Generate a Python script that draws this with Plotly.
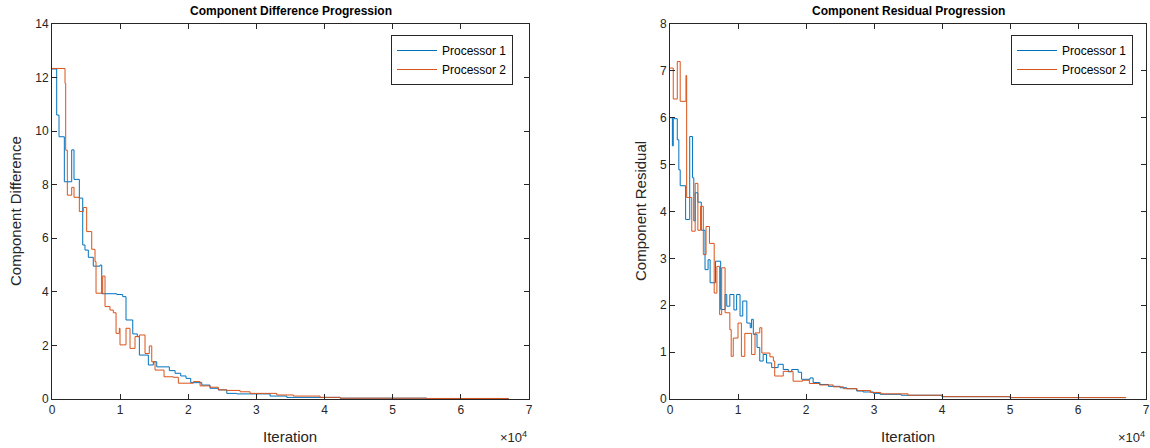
import plotly.graph_objects as go

# ---------------- data ----------------
# Left panel: Component Difference
diff_p1_iter = [0, 690, 1030, 1810, 2890, 3230, 4010, 4510, 4840, 5330, 6060, 7050, 7300,
                9500, 10380, 10860, 11850, 12520, 12820, 14140, 14870, 15370, 17220, 18060,
                18890, 19670, 20360, 21980, 23190, 24410, 25650, 27110, 32000, 34450, 42280,
                55000, 67000]
diff_p1_val = [12.32, 10.6, 9.79, 8.11, 9.3, 8.2, 7.5, 5.75, 5.56, 5.29, 4.96, 5.0, 3.93,
               3.9, 3.82, 2.95, 2.43, 2.33, 1.64, 1.27, 1.39, 1.2, 1.06, 0.96,
               0.86, 0.77, 0.61, 0.52, 0.40, 0.34, 0.21, 0.19, 0.11, 0.06, 0.03,
               0.015, 0.01]

diff_p2_iter = [0, 1910, 2010, 2250, 2890, 3230, 4010, 4600, 5090, 5830, 6310, 6460, 7440,
                7780, 8510, 9000, 9400, 9880, 9980, 10860, 11450, 12180, 12820, 13650, 14280,
                14640, 15120, 16440, 17810, 18540, 20740, 21730, 23190, 24410, 25650, 27600,
                29070, 32990, 35420, 39340, 42280, 55000, 67000]
diff_p2_val = [12.34, 11.78, 9.29, 7.61, 7.9, 7.53, 7.0, 7.15, 6.25, 5.59, 5.13, 3.95, 4.59,
               3.45, 3.32, 3.22, 2.45, 2.64, 2.02, 2.64, 1.89, 2.33, 2.39, 1.7, 1.98,
               1.39, 1.08, 0.83, 0.81, 0.59, 0.65, 0.49, 0.44, 0.34, 0.32, 0.27,
               0.21, 0.15, 0.11, 0.06, 0.03, 0.02, 0.01]

# Right panel: Component Residual
res_p1_iter = [0, 350, 480, 1070, 1300, 1500, 2300, 2900, 3300, 3500, 3700, 4100, 4600, 5150,
               5600, 5900, 6700, 7450, 8100, 8350, 8800, 9400, 9800, 10300, 10700, 11300,
               11800, 12000, 12250, 12800, 13200, 13700, 14200, 14950, 15900, 16650, 17400,
               17900, 18850, 19350, 20600, 21050, 22050, 23300, 25000, 26000, 27450, 28400,
               29900, 30900, 34000, 40000, 50000, 67000]
res_p1_val = [6.0, 5.4, 5.98, 5.53, 4.89, 4.55, 3.83, 5.6, 4.72, 3.8, 4.4, 4.2, 3.6, 2.76,
              2.97, 2.48, 2.94, 1.91, 2.23, 1.98, 2.23, 1.9, 2.23, 1.77, 2.09, 1.62,
              1.52, 1.7, 1.38, 1.1, 0.81, 0.95, 0.77, 0.67, 0.74, 0.63, 0.58,
              0.63, 0.57, 0.42, 0.45, 0.35, 0.31, 0.27, 0.24, 0.22, 0.17, 0.15,
              0.12, 0.1, 0.08, 0.05, 0.03, 0.02]

res_p2_iter = [0, 480, 1070, 1500, 2350, 2450, 3200, 3700, 4100, 4500, 4900, 5300, 5800, 6500,
               6900, 7300, 7600, 8100, 8800, 9000, 9300, 10000, 10500, 11000, 12000, 12500,
               13200, 13500, 14700, 15200, 15400, 16650, 18100, 19500, 20500, 22000, 24000,
               25500, 27500, 29500, 31000, 35000, 40000, 50000, 67000]
res_p2_val = [7.06, 6.4, 7.2, 6.35, 6.9, 4.3, 3.58, 4.6, 3.6, 4.11, 3.08, 3.68, 3.32, 2.26,
              2.83, 1.8, 2.8, 1.84, 1.48, 0.91, 1.3, 1.62, 0.91, 1.4, 0.95, 1.41,
              1.52, 0.98, 0.9, 0.81, 0.49, 0.59, 0.38, 0.4, 0.33, 0.3, 0.26,
              0.22, 0.18, 0.14, 0.11, 0.08, 0.05, 0.03, 0.02]

series_names = ["Processor 1", "Processor 2"]
x_tick_vals = [0, 10000, 20000, 30000, 40000, 50000, 60000, 70000]
x_tick_text = ["0", "1", "2", "3", "4", "5", "6", "7"]

# ---------------- styling ----------------
W, H = 1150, 448
BLUE = "#0072BD"
ORANGE = "#D95319"
AX = "#262626"
FONT = "Liberation Sans, Arial, Helvetica, sans-serif"

def px_x(p):
    return p / W

def px_y(p):
    return 1 - p / H

fig = go.Figure()

fig.add_trace(go.Scatter(x=diff_p1_iter, y=diff_p1_val, mode="lines", line_shape="hv",
                         line=dict(color=BLUE, width=1), name=series_names[0],
                         xaxis="x", yaxis="y", legend="legend"))
fig.add_trace(go.Scatter(x=diff_p2_iter, y=diff_p2_val, mode="lines", line_shape="hv",
                         line=dict(color=ORANGE, width=1), name=series_names[1],
                         xaxis="x", yaxis="y", legend="legend"))
fig.add_trace(go.Scatter(x=res_p1_iter, y=res_p1_val, mode="lines", line_shape="hv",
                         line=dict(color=BLUE, width=1), name=series_names[0],
                         xaxis="x2", yaxis="y2", legend="legend2"))
fig.add_trace(go.Scatter(x=res_p2_iter, y=res_p2_val, mode="lines", line_shape="hv",
                         line=dict(color=ORANGE, width=1), name=series_names[1],
                         xaxis="x2", yaxis="y2", legend="legend2"))

axis_common = dict(showline=True, linecolor=AX, linewidth=1, mirror="allticks",
                   ticks="inside", ticklen=5, tickcolor=AX, tickwidth=1,
                   showgrid=False, zeroline=False, automargin=False,
                   tickfont=dict(family=FONT, size=12, color=AX))

ydom = [px_y(399), px_y(24)]

legend_common = dict(xanchor="right", yanchor="top",
                     bgcolor="white", bordercolor=AX, borderwidth=1,
                     font=dict(family=FONT, size=12, color="black"),
                     tracegroupgap=0, itemwidth=40)

fig.update_layout(
    width=W, height=H,
    margin=dict(l=0, r=0, t=0, b=0, pad=0, autoexpand=False),
    paper_bgcolor="white", plot_bgcolor="white",
    font=dict(family=FONT, color=AX),
    xaxis=dict(domain=[px_x(52), px_x(529)], range=[0, 70000], tickvals=x_tick_vals,
               ticktext=x_tick_text, anchor="y", **axis_common),
    yaxis=dict(domain=ydom, range=[0, 14], dtick=2, anchor="x", **axis_common),
    xaxis2=dict(domain=[px_x(670), px_x(1146)], range=[0, 70000], tickvals=x_tick_vals,
                ticktext=x_tick_text, anchor="y2", **axis_common),
    yaxis2=dict(domain=ydom, range=[0, 8], dtick=1, anchor="x2", **axis_common),
    legend=dict(x=px_x(513), y=px_y(35), **legend_common),
    legend2=dict(x=px_x(1133), y=px_y(35), **legend_common),
    showlegend=True,
)

LABEL_SIZE = 15
annotations = [
    dict(text="<b>Component Difference Progression</b>", x=px_x(291), y=px_y(11),
         font=dict(size=12, color="black")),
    dict(text="<b>Component Residual Progression</b>", x=px_x(908), y=px_y(11),
         font=dict(size=12, color="black")),
    dict(text="Iteration", x=px_x(290), y=px_y(436), font=dict(size=LABEL_SIZE, color=AX)),
    dict(text="Iteration", x=px_x(908), y=px_y(436), font=dict(size=LABEL_SIZE, color=AX)),
    dict(text="Component Difference", x=px_x(16), y=px_y(211), textangle=-90,
         font=dict(size=LABEL_SIZE, color=AX)),
    dict(text="Component Residual", x=px_x(641), y=px_y(211), textangle=-90,
         font=dict(size=LABEL_SIZE, color=AX)),
    dict(text="×10<sup>4</sup>", x=px_x(513), y=px_y(437), font=dict(size=13, color=AX)),
    dict(text="×10<sup>4</sup>", x=px_x(1131), y=px_y(437), font=dict(size=13, color=AX)),
]
for a in annotations:
    a.update(xref="paper", yref="paper", showarrow=False, xanchor="center", yanchor="middle")
    a["font"]["family"] = FONT
fig.update_layout(annotations=annotations)

fig.write_html("out.html", config={"displayModeBar": False},
               post_script="document.body.style.margin='0';")
